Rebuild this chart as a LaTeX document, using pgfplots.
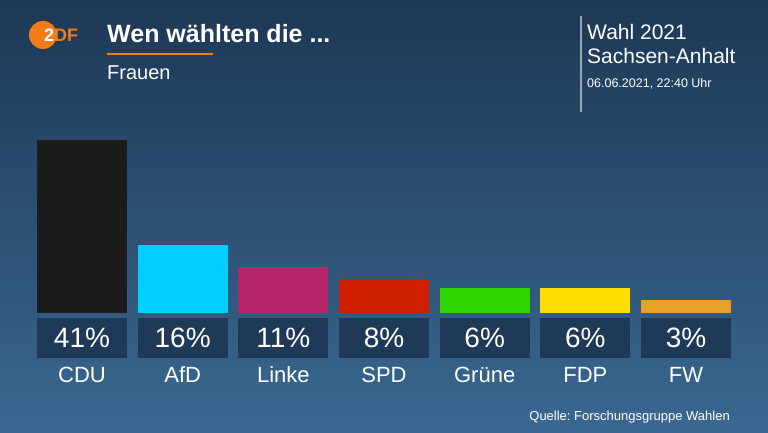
\documentclass[border=0pt]{standalone}
\usepackage{pgfplots}
\pgfplotsset{compat=1.18}
\usepackage{fontspec}
\setmainfont{Liberation Sans}
\frenchspacing
\definecolor{bgtop}{HTML}{1E3856}
\definecolor{bgbot}{HTML}{3A6890}
\definecolor{boxc}{HTML}{1F3A58}
\definecolor{zdforange}{HTML}{F47C14}
\definecolor{cdu}{HTML}{1B1B1B}
\definecolor{afd}{HTML}{00CFFF}
\definecolor{linke}{HTML}{B6256A}
\definecolor{spd}{HTML}{D01F00}
\definecolor{gruene}{HTML}{2DD600}
\definecolor{fdp}{HTML}{FFDD00}
\definecolor{fw}{HTML}{E8A02A}
\newcommand{\lab}[3]{%
  \node[fill=boxc, minimum width=90pt, minimum height=40pt, inner sep=0pt, text=white, font=\fontsize{28}{28}\selectfont]
    at (axis cs:#1,-5.92) {#2\%};
  \node[text=white, font=\fontsize{22}{22}\selectfont, anchor=base, inner sep=0pt] at (axis cs:#1,-16.5) {#3};
}
\begin{document}
\begin{tikzpicture}
\shade[top color=bgtop, bottom color=bgbot] (0,0) rectangle (768pt,432pt);
\useasboundingbox (0,0) rectangle (768pt,432pt);
\begin{axis}[
  at={(0,0)}, anchor=south west,
  scale only axis, width=768pt, height=432pt,
  xmin=-0.8146, xmax=6.8146, ymin=-28.2, ymax=74.17,
  hide axis, ybar, bar width=90pt, bar shift=0pt,
  clip=false,
]
\addplot[fill=cdu, draw=none] coordinates {(0,41)};
\addplot[fill=afd, draw=none] coordinates {(1,16)};
\addplot[fill=linke, draw=none] coordinates {(2,11)};
\addplot[fill=spd, draw=none] coordinates {(3,8)};
\addplot[fill=gruene, draw=none] coordinates {(4,6)};
\addplot[fill=fdp, draw=none] coordinates {(5,6)};
\addplot[fill=fw, draw=none] coordinates {(6,3)};
\lab{0}{41}{CDU}
\lab{1}{16}{AfD}
\lab{2}{11}{Linke}
\lab{3}{8}{SPD}
\lab{4}{6}{Grüne}
\lab{5}{6}{FDP}
\lab{6}{3}{FW}
\end{axis}
% logo
\fill[zdforange] (43pt,397pt) circle (14pt);
\node[anchor=base west, inner sep=0pt, font=\bfseries\fontsize{18}{18}\selectfont] at (44pt,390pt) {\textcolor{white}{2}\textcolor{zdforange}{DF}};
% title
\node[anchor=base west, inner sep=0pt, text=white, font=\bfseries\fontsize{25}{25}\selectfont] at (107pt,389pt) {Wen wählten die ...};
\draw[zdforange, line width=2pt] (107pt,378pt) -- (213pt,378pt);
\node[anchor=base west, inner sep=0pt, text=white, font=\fontsize{20}{20}\selectfont] at (107pt,352pt) {Frauen};
% right block
\draw[white!55!bgtop, line width=1.2pt] (581pt,416pt) -- (581pt,320pt);
\node[anchor=base west, inner sep=0pt, text=white, font=\fontsize{21}{21}\selectfont] at (587pt,392pt) {Wahl 2021};
\node[anchor=base west, inner sep=0pt, text=white, font=\fontsize{21}{21}\selectfont] at (587pt,368pt) {Sachsen-Anhalt};
\node[anchor=base west, inner sep=0pt, text=white, font=\fontsize{12.5}{12.5}\selectfont] at (587pt,344pt) {06.06.2021, 22:40 Uhr};
% source
\node[anchor=base east, inner sep=0pt, text=white, font=\fontsize{13}{13}\selectfont] at (730pt,12pt) {Quelle: Forschungsgruppe Wahlen};
\end{tikzpicture}
\end{document}
